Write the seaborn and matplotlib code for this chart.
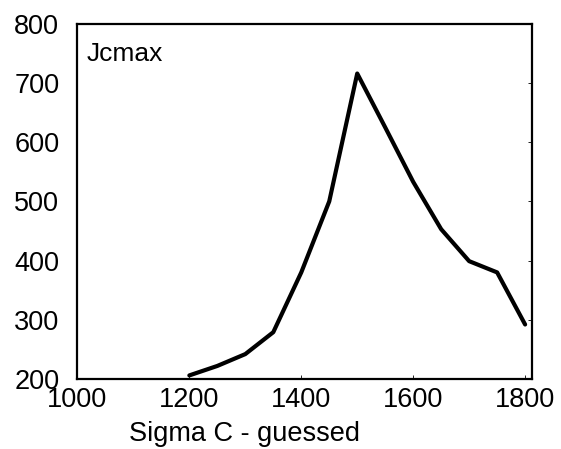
import matplotlib
matplotlib.use("Agg")
import matplotlib.pyplot as plt
import seaborn as sns
import pandas as pd

sigma_c = [1200, 1250, 1300, 1350, 1400, 1450, 1500, 1550, 1600, 1650, 1700, 1750, 1800]
jcmax = [206, 222, 242, 279, 380, 500, 716, 625, 533, 453, 399, 380, 292]
x_ticks = [1000, 1200, 1400, 1600, 1800]
y_ticks = [200, 300, 400, 500, 600, 700, 800]

sns.set_theme(style="white")
plt.rcParams['font.family'] = ['Liberation Sans', 'DejaVu Sans']

df = pd.DataFrame({"Sigma C - guessed": sigma_c, "Jcmax": jcmax})

fig = plt.figure(figsize=(5.61, 4.49), dpi=100)
ax = fig.add_axes([0.138, 0.156, 0.810, 0.791])
sns.lineplot(data=df, x="Sigma C - guessed", y="Jcmax", ax=ax,
             color="black", linewidth=3.0)

ax.set_xlim(1000, 1812)
ax.set_ylim(200, 800)
ax.set_xticks(x_ticks)
ax.set_yticks(y_ticks)
ax.tick_params(axis="both", labelsize=19.5, colors="black", direction="in",
               length=3, width=0.6, top=False, right=True, left=False, bottom=True)
ax.tick_params(axis="y", pad=13)
ax.tick_params(axis="x", pad=6)
for s in ax.spines.values():
    s.set_color("black")
    s.set_linewidth(1.6)

ax.set_ylabel("")
ax.set_xlabel("Sigma C - guessed", fontsize=19.5, color="black")
ax.xaxis.set_label_coords(0.368, -0.118)
ax.text(0.02, 0.915, "Jcmax", transform=ax.transAxes, fontsize=19,
        va="center", ha="left", color="black")

fig.savefig("out.png", dpi=100, facecolor="white")
